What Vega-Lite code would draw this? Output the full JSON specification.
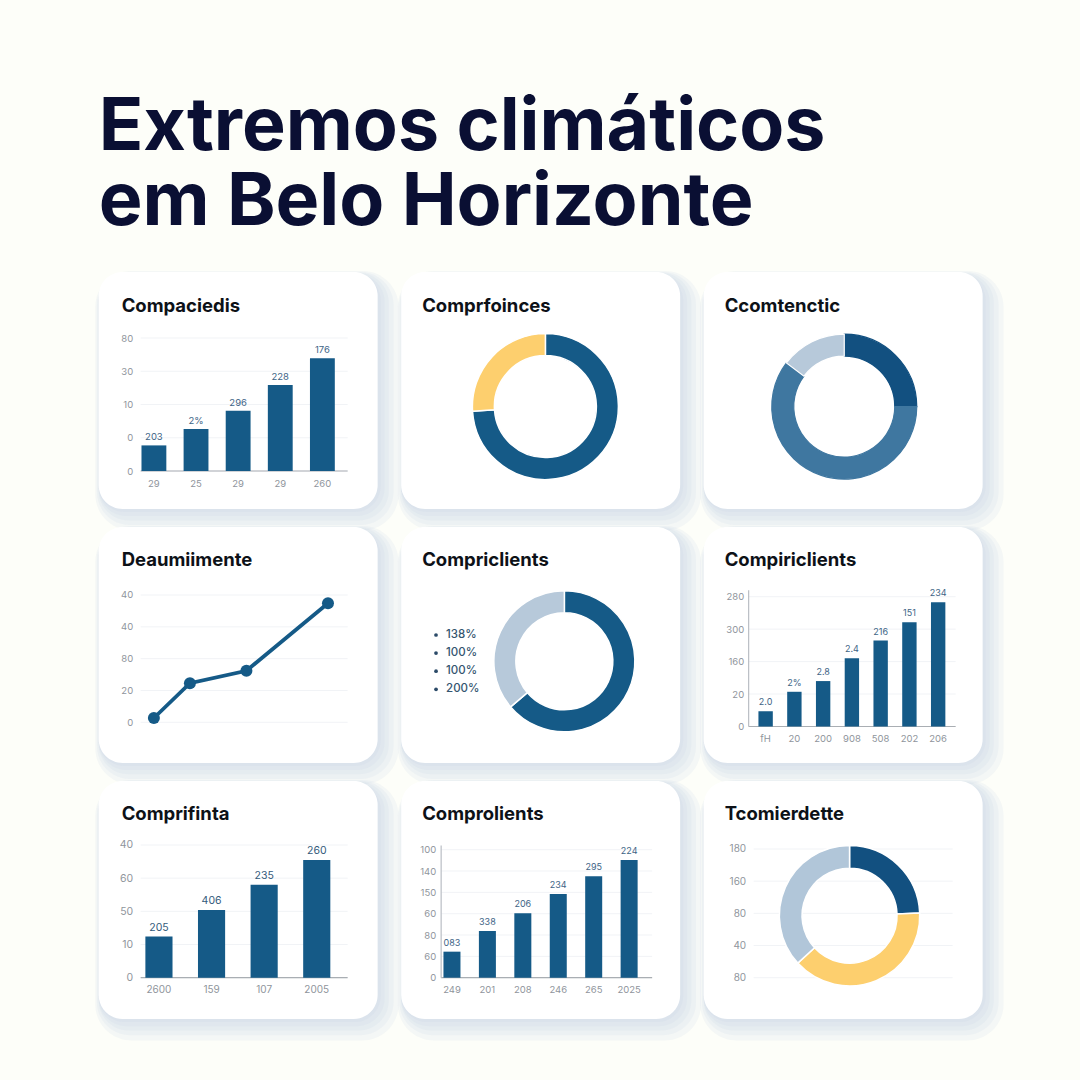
{
  "$schema": "https://vega.github.io/schema/vega-lite/v6.json",
  "background": "#fdfef9",
  "padding": {"left": 94.65, "top": 90, "right": 77, "bottom": 39},
  "title": {"text": ["Extremos climáticos", "em Belo Horizonte"], "fontSize": 73.5, "fontWeight": 700, "color": "#0a0f33", "lineHeight": 75, "anchor": "start", "frame": "group", "offset": 31, "dx": 0},
  "resolve": {"scale": {"color": "independent", "stroke": "independent"}},
  "config": {
    "font": "Inter",
    "view": {"stroke": null},
    "title": {"fontSize": 18.5, "fontWeight": 700, "color": "#0d1117", "anchor": "start", "frame": "group", "dx": 21, "offset": -43},
    "axis": {"domain": false, "ticks": false, "grid": false, "labelColor": "#8f959c", "labelFontSize": 9.5, "labelOverlap": false, "labelAngle": 0, "title": null}
  },
  "columns": 3,
  "bounds": "flush",
  "spacing": {"row": 18, "column": 23.5},
  "concat": [
    {
      "title": {"text": "Compaciedis", "dx": 23, "offset": -44},
      "width": 279,
      "height": 237,
      "resolve": {"scale": {"x": "independent", "y": "independent"}},
      "layer": [
        {"data": {"values": [{"card": 1}]}, "layer": [
          {"mark": {"type": "rect", "color": "#c5d3e1", "opacity": 0.15, "cornerRadius": 36}, "encoding": {"x": {"datum": -0.012, "type": "quantitative", "scale": {"domain": [0, 1], "range": [0, 279]}, "axis": null}, "x2": {"datum": 1.075}, "y": {"datum": -0.004, "type": "quantitative", "scale": {"domain": [0, 1], "range": [0, 237]}, "axis": null}, "y2": {"datum": 1.09}}},
          {"mark": {"type": "rect", "color": "#c5d3e1", "opacity": 0.15, "cornerRadius": 33}, "encoding": {"x": {"datum": -0.006}, "x2": {"datum": 1.057}, "y": {"datum": 0}, "y2": {"datum": 1.068}}},
          {"mark": {"type": "rect", "color": "#c5d3e1", "opacity": 0.15, "cornerRadius": 30}, "encoding": {"x": {"datum": 0}, "x2": {"datum": 1.04}, "y": {"datum": 0.004}, "y2": {"datum": 1.048}}},
          {"mark": {"type": "rect", "color": "#c5d3e1", "opacity": 0.15, "cornerRadius": 28}, "encoding": {"x": {"datum": 0}, "x2": {"datum": 1.025}, "y": {"datum": 0.008}, "y2": {"datum": 1.03}}},
          {"mark": {"type": "rect", "color": "#c5d3e1", "opacity": 0.15, "cornerRadius": 26}, "encoding": {"x": {"datum": 0}, "x2": {"datum": 1.011}, "y": {"datum": 0.012}, "y2": {"datum": 1.013}}},
          {"mark": {"type": "rect", "color": "#ffffff", "cornerRadius": 24}, "encoding": {"x": {"datum": 0}, "x2": {"datum": 1}, "y": {"datum": 0}, "y2": {"datum": 1}}}
        ]},
        {"data": {"values": [{"tick": 0}, {"tick": 10}, {"tick": 20}, {"tick": 30}, {"tick": 40}]}, "mark": {"type": "rule", "color": "#f1f3f6"}, "encoding": {"x": {"datum": 0, "type": "quantitative", "scale": {"domain": [0, 1], "range": [42, 249]}, "axis": null}, "x2": {"datum": 1}, "y": {"field": "tick", "type": "quantitative", "scale": {"domain": [0, 40], "range": [199, 66]}, "axis": {"zindex": 1, "orient": "left", "values": [0, 10, 20, 30, 40], "offset": -38, "labelPadding": 4, "labelExpr": "['0','0','10','30','80'][datum.value/10]"}}}},
        {"data": {"values": [{"tick": 0}]}, "mark": {"type": "rule", "color": "#a9aeb3", "strokeWidth": 1.2}, "encoding": {"x": {"datum": 0, "type": "quantitative", "scale": {"domain": [0, 1], "range": [42, 249]}, "axis": null}, "x2": {"datum": 1}, "y": {"field": "tick", "type": "quantitative", "scale": {"domain": [0, 40], "range": [199, 66]}, "axis": null}}},
        {
          "data": {"values": [
            {"period": "29|1", "value": 7.7, "label": "203"},
            {"period": "25|2", "value": 12.6, "label": "2%"},
            {"period": "29|3", "value": 18.1, "label": "296"},
            {"period": "29|4", "value": 25.9, "label": "228"},
            {"period": "260|5", "value": 33.9, "label": "176"}
          ]},
          "encoding": {
            "x": {"field": "period", "type": "nominal", "sort": null, "scale": {"range": [34.2, 244.8], "paddingInner": 0.41, "paddingOuter": 0.205}, "axis": {"zindex": 1, "orient": "bottom", "offset": -38, "labelPadding": 7, "labelExpr": "split(datum.label,'|')[0]"}},
            "y": {"field": "value", "type": "quantitative", "scale": {"domain": [0, 40], "range": [199, 66]}, "axis": null}
          },
          "layer": [
            {"mark": {"type": "bar", "color": "#155a87"}},
            {"mark": {"type": "text", "dy": -8, "fontSize": 9.5, "color": "#3e6486"}, "encoding": {"text": {"field": "label"}}}
          ]
        }
      ]
    },
    {
      "title": {"text": "Comprfoinces", "offset": -44},
      "width": 279,
      "height": 237,
      "data": {"values": [{"card": 2}]},
      "layer": [
        {"mark": {"type": "rect", "color": "#c5d3e1", "opacity": 0.15, "cornerRadius": 36}, "encoding": {"x": {"datum": -0.012, "type": "quantitative", "scale": {"domain": [0, 1], "range": [0, 279]}, "axis": null}, "x2": {"datum": 1.075}, "y": {"datum": -0.004, "type": "quantitative", "scale": {"domain": [0, 1], "range": [0, 237]}, "axis": null}, "y2": {"datum": 1.09}}},
        {"mark": {"type": "rect", "color": "#c5d3e1", "opacity": 0.15, "cornerRadius": 33}, "encoding": {"x": {"datum": -0.006}, "x2": {"datum": 1.057}, "y": {"datum": 0}, "y2": {"datum": 1.068}}},
        {"mark": {"type": "rect", "color": "#c5d3e1", "opacity": 0.15, "cornerRadius": 30}, "encoding": {"x": {"datum": 0}, "x2": {"datum": 1.04}, "y": {"datum": 0.004}, "y2": {"datum": 1.048}}},
        {"mark": {"type": "rect", "color": "#c5d3e1", "opacity": 0.15, "cornerRadius": 28}, "encoding": {"x": {"datum": 0}, "x2": {"datum": 1.025}, "y": {"datum": 0.008}, "y2": {"datum": 1.03}}},
        {"mark": {"type": "rect", "color": "#c5d3e1", "opacity": 0.15, "cornerRadius": 26}, "encoding": {"x": {"datum": 0}, "x2": {"datum": 1.011}, "y": {"datum": 0.012}, "y2": {"datum": 1.013}}},
        {"mark": {"type": "rect", "color": "#ffffff", "cornerRadius": 24}, "encoding": {"x": {"datum": 0}, "x2": {"datum": 1}, "y": {"datum": 0}, "y2": {"datum": 1}}},
        {
          "data": {"values": [{"segment": "A", "share": 74, "order": 1}, {"segment": "B", "share": 26, "order": 2}]},
          "mark": {"type": "arc", "outerRadius": 73, "innerRadius": 51, "stroke": "#ffffff", "strokeWidth": 1.5},
          "encoding": {
            "x": {"datum": 0.517},
            "y": {"datum": 0.568},
            "theta": {"field": "share", "type": "quantitative", "stack": true},
            "order": {"field": "order"},
            "color": {"field": "segment", "type": "nominal", "legend": null, "scale": {"domain": ["A", "B"], "range": ["#155a87", "#fdcf6e"]}}
          }
        }
      ]
    },
    {
      "title": {"text": "Ccomtenctic", "offset": -44},
      "width": 279,
      "height": 237,
      "data": {"values": [{"card": 3}]},
      "layer": [
        {"mark": {"type": "rect", "color": "#c5d3e1", "opacity": 0.15, "cornerRadius": 36}, "encoding": {"x": {"datum": -0.012, "type": "quantitative", "scale": {"domain": [0, 1], "range": [0, 279]}, "axis": null}, "x2": {"datum": 1.075}, "y": {"datum": -0.004, "type": "quantitative", "scale": {"domain": [0, 1], "range": [0, 237]}, "axis": null}, "y2": {"datum": 1.09}}},
        {"mark": {"type": "rect", "color": "#c5d3e1", "opacity": 0.15, "cornerRadius": 33}, "encoding": {"x": {"datum": -0.006}, "x2": {"datum": 1.057}, "y": {"datum": 0}, "y2": {"datum": 1.068}}},
        {"mark": {"type": "rect", "color": "#c5d3e1", "opacity": 0.15, "cornerRadius": 30}, "encoding": {"x": {"datum": 0}, "x2": {"datum": 1.04}, "y": {"datum": 0.004}, "y2": {"datum": 1.048}}},
        {"mark": {"type": "rect", "color": "#c5d3e1", "opacity": 0.15, "cornerRadius": 28}, "encoding": {"x": {"datum": 0}, "x2": {"datum": 1.025}, "y": {"datum": 0.008}, "y2": {"datum": 1.03}}},
        {"mark": {"type": "rect", "color": "#c5d3e1", "opacity": 0.15, "cornerRadius": 26}, "encoding": {"x": {"datum": 0}, "x2": {"datum": 1.011}, "y": {"datum": 0.012}, "y2": {"datum": 1.013}}},
        {"mark": {"type": "rect", "color": "#ffffff", "cornerRadius": 24}, "encoding": {"x": {"datum": 0}, "x2": {"datum": 1}, "y": {"datum": 0}, "y2": {"datum": 1}}},
        {
          "data": {"values": [{"segment": "A", "share": 25, "order": 1}, {"segment": "B", "share": 60.3, "order": 2}, {"segment": "C", "share": 14.7, "order": 3}]},
          "mark": {"type": "arc", "outerRadius": 72.5, "innerRadius": 50.5, "strokeWidth": 1.2},
          "encoding": {
            "x": {"datum": 0.504},
            "y": {"datum": 0.568},
            "theta": {"field": "share", "type": "quantitative", "stack": true},
            "order": {"field": "order"},
            "color": {"field": "segment", "type": "nominal", "legend": null, "scale": {"domain": ["A", "B", "C"], "range": ["#125080", "#3f77a0", "#b7c9da"]}},
            "stroke": {"field": "segment", "type": "nominal", "legend": null, "scale": {"domain": ["A", "B", "C"], "range": ["#125080", "#3f77a0", "#ffffff"]}}
          }
        }
      ]
    },
    {
      "title": {"text": "Deaumiimente", "dx": 23},
      "width": 279,
      "height": 236,
      "resolve": {"scale": {"x": "independent", "y": "independent"}},
      "layer": [
        {"data": {"values": [{"card": 4}]}, "layer": [
          {"mark": {"type": "rect", "color": "#c5d3e1", "opacity": 0.15, "cornerRadius": 36}, "encoding": {"x": {"datum": -0.012, "type": "quantitative", "scale": {"domain": [0, 1], "range": [0, 279]}, "axis": null}, "x2": {"datum": 1.075}, "y": {"datum": -0.004, "type": "quantitative", "scale": {"domain": [0, 1], "range": [0, 236]}, "axis": null}, "y2": {"datum": 1.09}}},
          {"mark": {"type": "rect", "color": "#c5d3e1", "opacity": 0.15, "cornerRadius": 33}, "encoding": {"x": {"datum": -0.006}, "x2": {"datum": 1.057}, "y": {"datum": 0}, "y2": {"datum": 1.068}}},
          {"mark": {"type": "rect", "color": "#c5d3e1", "opacity": 0.15, "cornerRadius": 30}, "encoding": {"x": {"datum": 0}, "x2": {"datum": 1.04}, "y": {"datum": 0.004}, "y2": {"datum": 1.048}}},
          {"mark": {"type": "rect", "color": "#c5d3e1", "opacity": 0.15, "cornerRadius": 28}, "encoding": {"x": {"datum": 0}, "x2": {"datum": 1.025}, "y": {"datum": 0.008}, "y2": {"datum": 1.03}}},
          {"mark": {"type": "rect", "color": "#c5d3e1", "opacity": 0.15, "cornerRadius": 26}, "encoding": {"x": {"datum": 0}, "x2": {"datum": 1.011}, "y": {"datum": 0.012}, "y2": {"datum": 1.013}}},
          {"mark": {"type": "rect", "color": "#ffffff", "cornerRadius": 24}, "encoding": {"x": {"datum": 0}, "x2": {"datum": 1}, "y": {"datum": 0}, "y2": {"datum": 1}}}
        ]},
        {"data": {"values": [{"tick": 0}, {"tick": 10}, {"tick": 20}, {"tick": 30}, {"tick": 40}]}, "mark": {"type": "rule", "color": "#f1f3f6"}, "encoding": {"x": {"datum": 0, "type": "quantitative", "scale": {"domain": [0, 100], "range": [42, 249]}, "axis": null}, "x2": {"datum": 100}, "y": {"field": "tick", "type": "quantitative", "scale": {"domain": [0, 40], "range": [195.3, 68]}, "axis": {"zindex": 1, "orient": "left", "values": [0, 10, 20, 30, 40], "offset": -38, "labelPadding": 4, "labelExpr": "['0','20','80','40','40'][datum.value/10]"}}}},
        {
          "data": {"values": [{"t": 6.4, "value": 1.35}, {"t": 23.8, "value": 12.3}, {"t": 51.1, "value": 16.2}, {"t": 90.5, "value": 37.4}]},
          "encoding": {"x": {"field": "t", "type": "quantitative", "scale": {"domain": [0, 100], "range": [42, 249]}, "axis": null}, "y": {"field": "value", "type": "quantitative", "scale": {"domain": [0, 40], "range": [195.3, 68]}, "axis": null}},
          "layer": [
            {"mark": {"type": "line", "color": "#155a87", "strokeWidth": 3.8}},
            {"mark": {"type": "point", "filled": true, "color": "#155a87", "size": 144, "opacity": 1}}
          ]
        }
      ]
    },
    {
      "title": {"text": "Compriclients"},
      "width": 279,
      "height": 236,
      "resolve": {"scale": {"y": "independent"}},
      "layer": [
        {"data": {"values": [{"card": 5}]}, "layer": [
          {"mark": {"type": "rect", "color": "#c5d3e1", "opacity": 0.15, "cornerRadius": 36}, "encoding": {"x": {"datum": -0.012, "type": "quantitative", "scale": {"domain": [0, 1], "range": [0, 279]}, "axis": null}, "x2": {"datum": 1.075}, "y": {"datum": -0.004, "type": "quantitative", "scale": {"domain": [0, 1], "range": [0, 236]}, "axis": null}, "y2": {"datum": 1.09}}},
          {"mark": {"type": "rect", "color": "#c5d3e1", "opacity": 0.15, "cornerRadius": 33}, "encoding": {"x": {"datum": -0.006}, "x2": {"datum": 1.057}, "y": {"datum": 0}, "y2": {"datum": 1.068}}},
          {"mark": {"type": "rect", "color": "#c5d3e1", "opacity": 0.15, "cornerRadius": 30}, "encoding": {"x": {"datum": 0}, "x2": {"datum": 1.04}, "y": {"datum": 0.004}, "y2": {"datum": 1.048}}},
          {"mark": {"type": "rect", "color": "#c5d3e1", "opacity": 0.15, "cornerRadius": 28}, "encoding": {"x": {"datum": 0}, "x2": {"datum": 1.025}, "y": {"datum": 0.008}, "y2": {"datum": 1.03}}},
          {"mark": {"type": "rect", "color": "#c5d3e1", "opacity": 0.15, "cornerRadius": 26}, "encoding": {"x": {"datum": 0}, "x2": {"datum": 1.011}, "y": {"datum": 0.012}, "y2": {"datum": 1.013}}},
          {"mark": {"type": "rect", "color": "#ffffff", "cornerRadius": 24}, "encoding": {"x": {"datum": 0}, "x2": {"datum": 1}, "y": {"datum": 0}, "y2": {"datum": 1}}},
          {
            "data": {"values": [{"segment": "A", "share": 63.8, "order": 1}, {"segment": "B", "share": 36.2, "order": 2}]},
            "mark": {"type": "arc", "outerRadius": 70.5, "innerRadius": 48.5, "stroke": "#ffffff", "strokeWidth": 1.5},
            "encoding": {
              "x": {"datum": 0.585},
              "y": {"datum": 0.569},
              "theta": {"field": "share", "type": "quantitative", "stack": true},
              "order": {"field": "order"},
              "color": {"field": "segment", "type": "nominal", "legend": null, "scale": {"domain": ["A", "B"], "range": ["#155a87", "#b7c9da"]}}
            }
          }
        ]},
        {
          "data": {"values": [{"rank": 1, "label": "138%"}, {"rank": 2, "label": "100%"}, {"rank": 3, "label": "100%"}, {"rank": 4, "label": "200%"}]},
          "encoding": {"y": {"field": "rank", "type": "quantitative", "scale": {"domain": [1, 4], "range": [108, 162.3], "zero": false}, "axis": null}},
          "layer": [
            {"mark": {"type": "point", "filled": true, "color": "#2b4a68", "size": 14, "opacity": 1}, "encoding": {"x": {"datum": 0.125}}},
            {"mark": {"type": "text", "align": "left", "fontSize": 11.5, "fontWeight": 500, "color": "#34556f"}, "encoding": {"x": {"datum": 0.161}, "text": {"field": "label"}}}
          ]
        }
      ]
    },
    {
      "title": {"text": "Compiriclients"},
      "width": 279,
      "height": 236,
      "resolve": {"scale": {"x": "independent", "y": "independent"}},
      "layer": [
        {"data": {"values": [{"card": 6}]}, "layer": [
          {"mark": {"type": "rect", "color": "#c5d3e1", "opacity": 0.15, "cornerRadius": 36}, "encoding": {"x": {"datum": -0.012, "type": "quantitative", "scale": {"domain": [0, 1], "range": [0, 279]}, "axis": null}, "x2": {"datum": 1.075}, "y": {"datum": -0.004, "type": "quantitative", "scale": {"domain": [0, 1], "range": [0, 236]}, "axis": null}, "y2": {"datum": 1.09}}},
          {"mark": {"type": "rect", "color": "#c5d3e1", "opacity": 0.15, "cornerRadius": 33}, "encoding": {"x": {"datum": -0.006}, "x2": {"datum": 1.057}, "y": {"datum": 0}, "y2": {"datum": 1.068}}},
          {"mark": {"type": "rect", "color": "#c5d3e1", "opacity": 0.15, "cornerRadius": 30}, "encoding": {"x": {"datum": 0}, "x2": {"datum": 1.04}, "y": {"datum": 0.004}, "y2": {"datum": 1.048}}},
          {"mark": {"type": "rect", "color": "#c5d3e1", "opacity": 0.15, "cornerRadius": 28}, "encoding": {"x": {"datum": 0}, "x2": {"datum": 1.025}, "y": {"datum": 0.008}, "y2": {"datum": 1.03}}},
          {"mark": {"type": "rect", "color": "#c5d3e1", "opacity": 0.15, "cornerRadius": 26}, "encoding": {"x": {"datum": 0}, "x2": {"datum": 1.011}, "y": {"datum": 0.012}, "y2": {"datum": 1.013}}},
          {"mark": {"type": "rect", "color": "#ffffff", "cornerRadius": 24}, "encoding": {"x": {"datum": 0}, "x2": {"datum": 1}, "y": {"datum": 0}, "y2": {"datum": 1}}}
        ]},
        {"data": {"values": [{"tick": 0}, {"tick": 10}, {"tick": 20}, {"tick": 30}, {"tick": 40}]}, "mark": {"type": "rule", "color": "#f1f3f6"}, "encoding": {"x": {"datum": 0, "type": "quantitative", "scale": {"domain": [0, 1], "range": [45, 252]}, "axis": null}, "x2": {"datum": 1}, "y": {"field": "tick", "type": "quantitative", "scale": {"domain": [0, 40], "range": [199.5, 69.7]}, "axis": {"zindex": 1, "orient": "left", "values": [0, 10, 20, 30, 40], "offset": -45, "labelPadding": 5, "labelExpr": "['0','20','160','300','280'][datum.value/10]"}}}},
        {"data": {"values": [{"tick": 0}]}, "mark": {"type": "rule", "color": "#a9aeb3", "strokeWidth": 1.2}, "encoding": {"x": {"datum": 0, "type": "quantitative", "scale": {"domain": [0, 1], "range": [45, 252]}, "axis": null}, "x2": {"datum": 1}, "y": {"field": "tick", "type": "quantitative", "scale": {"domain": [0, 40], "range": [199.5, 69.7]}, "axis": null}}},
        {"data": {"values": [{"tick": 0, "top": 42}]}, "mark": {"type": "rule", "color": "#b9bec4", "strokeWidth": 1.2}, "encoding": {"x": {"datum": 0, "type": "quantitative", "scale": {"domain": [0, 1], "range": [45, 252]}, "axis": null}, "y": {"field": "tick", "type": "quantitative", "scale": {"domain": [0, 40], "range": [199.5, 69.7]}, "axis": null}, "y2": {"field": "top"}}},
        {
          "data": {"values": [
            {"period": "fH|1", "value": 4.7, "label": "2.0"},
            {"period": "20|2", "value": 10.7, "label": "2%"},
            {"period": "200|3", "value": 14, "label": "2.8"},
            {"period": "908|4", "value": 21, "label": "2.4"},
            {"period": "508|5", "value": 26.5, "label": "216"},
            {"period": "202|6", "value": 32.1, "label": "151"},
            {"period": "206|7", "value": 38.3, "label": "234"}
          ]},
          "encoding": {
            "x": {"field": "period", "type": "nominal", "sort": null, "scale": {"range": [47.6, 248.9], "paddingInner": 0.5, "paddingOuter": 0.25}, "axis": {"zindex": 1, "orient": "bottom", "offset": -36.5, "labelPadding": 7, "labelExpr": "split(datum.label,'|')[0]"}},
            "y": {"field": "value", "type": "quantitative", "scale": {"domain": [0, 40], "range": [199.5, 69.7]}, "axis": null}
          },
          "layer": [
            {"mark": {"type": "bar", "color": "#155a87"}},
            {"mark": {"type": "text", "dy": -9, "fontSize": 9, "color": "#3e6486"}, "encoding": {"text": {"field": "label"}}}
          ]
        }
      ]
    },
    {
      "title": {"text": "Comprifinta", "dx": 23},
      "width": 279,
      "height": 238,
      "resolve": {"scale": {"x": "independent", "y": "independent"}},
      "layer": [
        {"data": {"values": [{"card": 7}]}, "layer": [
          {"mark": {"type": "rect", "color": "#c5d3e1", "opacity": 0.15, "cornerRadius": 36}, "encoding": {"x": {"datum": -0.012, "type": "quantitative", "scale": {"domain": [0, 1], "range": [0, 279]}, "axis": null}, "x2": {"datum": 1.075}, "y": {"datum": -0.004, "type": "quantitative", "scale": {"domain": [0, 1], "range": [0, 238]}, "axis": null}, "y2": {"datum": 1.09}}},
          {"mark": {"type": "rect", "color": "#c5d3e1", "opacity": 0.15, "cornerRadius": 33}, "encoding": {"x": {"datum": -0.006}, "x2": {"datum": 1.057}, "y": {"datum": 0}, "y2": {"datum": 1.068}}},
          {"mark": {"type": "rect", "color": "#c5d3e1", "opacity": 0.15, "cornerRadius": 30}, "encoding": {"x": {"datum": 0}, "x2": {"datum": 1.04}, "y": {"datum": 0.004}, "y2": {"datum": 1.048}}},
          {"mark": {"type": "rect", "color": "#c5d3e1", "opacity": 0.15, "cornerRadius": 28}, "encoding": {"x": {"datum": 0}, "x2": {"datum": 1.025}, "y": {"datum": 0.008}, "y2": {"datum": 1.03}}},
          {"mark": {"type": "rect", "color": "#c5d3e1", "opacity": 0.15, "cornerRadius": 26}, "encoding": {"x": {"datum": 0}, "x2": {"datum": 1.011}, "y": {"datum": 0.012}, "y2": {"datum": 1.013}}},
          {"mark": {"type": "rect", "color": "#ffffff", "cornerRadius": 24}, "encoding": {"x": {"datum": 0}, "x2": {"datum": 1}, "y": {"datum": 0}, "y2": {"datum": 1}}}
        ]},
        {"data": {"values": [{"tick": 0}, {"tick": 10}, {"tick": 20}, {"tick": 30}, {"tick": 40}]}, "mark": {"type": "rule", "color": "#f1f3f6"}, "encoding": {"x": {"datum": 0, "type": "quantitative", "scale": {"domain": [0, 1], "range": [42, 249]}, "axis": null}, "x2": {"datum": 1}, "y": {"field": "tick", "type": "quantitative", "scale": {"domain": [0, 40], "range": [196.7, 64]}, "axis": {"zindex": 1, "orient": "left", "values": [0, 10, 20, 30, 40], "offset": -38, "labelPadding": 4, "labelFontSize": 10.5, "labelExpr": "['0','10','50','60','40'][datum.value/10]"}}}},
        {"data": {"values": [{"tick": 0}]}, "mark": {"type": "rule", "color": "#a9aeb3", "strokeWidth": 1.2}, "encoding": {"x": {"datum": 0, "type": "quantitative", "scale": {"domain": [0, 1], "range": [42, 249]}, "axis": null}, "x2": {"datum": 1}, "y": {"field": "tick", "type": "quantitative", "scale": {"domain": [0, 40], "range": [196.7, 64]}, "axis": null}}},
        {
          "data": {"values": [
            {"period": "2600|1", "value": 12.4, "label": "205"},
            {"period": "159|2", "value": 20.4, "label": "406"},
            {"period": "107|3", "value": 28, "label": "235"},
            {"period": "2005|4", "value": 35.5, "label": "260"}
          ]},
          "encoding": {
            "x": {"field": "period", "type": "nominal", "sort": null, "scale": {"range": [34, 244.4], "paddingInner": 0.484, "paddingOuter": 0.242}, "axis": {"zindex": 1, "orient": "bottom", "offset": -41.3, "labelPadding": 7, "labelFontSize": 10, "labelExpr": "split(datum.label,'|')[0]"}},
            "y": {"field": "value", "type": "quantitative", "scale": {"domain": [0, 40], "range": [196.7, 64]}, "axis": null}
          },
          "layer": [
            {"mark": {"type": "bar", "color": "#155a87"}},
            {"mark": {"type": "text", "dy": -9, "fontSize": 10.5, "color": "#335a7b"}, "encoding": {"text": {"field": "label"}}}
          ]
        }
      ]
    },
    {
      "title": {"text": "Comprolients"},
      "width": 279,
      "height": 238,
      "resolve": {"scale": {"x": "independent", "y": "independent"}},
      "layer": [
        {"data": {"values": [{"card": 8}]}, "layer": [
          {"mark": {"type": "rect", "color": "#c5d3e1", "opacity": 0.15, "cornerRadius": 36}, "encoding": {"x": {"datum": -0.012, "type": "quantitative", "scale": {"domain": [0, 1], "range": [0, 279]}, "axis": null}, "x2": {"datum": 1.075}, "y": {"datum": -0.004, "type": "quantitative", "scale": {"domain": [0, 1], "range": [0, 238]}, "axis": null}, "y2": {"datum": 1.09}}},
          {"mark": {"type": "rect", "color": "#c5d3e1", "opacity": 0.15, "cornerRadius": 33}, "encoding": {"x": {"datum": -0.006}, "x2": {"datum": 1.057}, "y": {"datum": 0}, "y2": {"datum": 1.068}}},
          {"mark": {"type": "rect", "color": "#c5d3e1", "opacity": 0.15, "cornerRadius": 30}, "encoding": {"x": {"datum": 0}, "x2": {"datum": 1.04}, "y": {"datum": 0.004}, "y2": {"datum": 1.048}}},
          {"mark": {"type": "rect", "color": "#c5d3e1", "opacity": 0.15, "cornerRadius": 28}, "encoding": {"x": {"datum": 0}, "x2": {"datum": 1.025}, "y": {"datum": 0.008}, "y2": {"datum": 1.03}}},
          {"mark": {"type": "rect", "color": "#c5d3e1", "opacity": 0.15, "cornerRadius": 26}, "encoding": {"x": {"datum": 0}, "x2": {"datum": 1.011}, "y": {"datum": 0.012}, "y2": {"datum": 1.013}}},
          {"mark": {"type": "rect", "color": "#ffffff", "cornerRadius": 24}, "encoding": {"x": {"datum": 0}, "x2": {"datum": 1}, "y": {"datum": 0}, "y2": {"datum": 1}}}
        ]},
        {"data": {"values": [{"tick": 0}, {"tick": 10}, {"tick": 20}, {"tick": 30}, {"tick": 40}, {"tick": 50}, {"tick": 60}]}, "mark": {"type": "rule", "color": "#f1f3f6"}, "encoding": {"x": {"datum": 0, "type": "quantitative", "scale": {"domain": [0, 1], "range": [40, 251]}, "axis": null}, "x2": {"datum": 1}, "y": {"field": "tick", "type": "quantitative", "scale": {"domain": [0, 60], "range": [196.7, 68.7]}, "axis": {"zindex": 1, "orient": "left", "values": [0, 10, 20, 30, 40, 50, 60], "offset": -40, "labelPadding": 5.5, "labelExpr": "['0','60','80','60','150','140','100'][datum.value/10]"}}}},
        {"data": {"values": [{"tick": 0}]}, "mark": {"type": "rule", "color": "#a9aeb3", "strokeWidth": 1.2}, "encoding": {"x": {"datum": 0, "type": "quantitative", "scale": {"domain": [0, 1], "range": [40, 251]}, "axis": null}, "x2": {"datum": 1}, "y": {"field": "tick", "type": "quantitative", "scale": {"domain": [0, 60], "range": [196.7, 68.7]}, "axis": null}}},
        {"data": {"values": [{"tick": 0, "top": 62}]}, "mark": {"type": "rule", "color": "#b9bec4", "strokeWidth": 1.2}, "encoding": {"x": {"datum": 0, "type": "quantitative", "scale": {"domain": [0, 1], "range": [40, 251]}, "axis": null}, "y": {"field": "tick", "type": "quantitative", "scale": {"domain": [0, 60], "range": [196.7, 68.7]}, "axis": null}, "y2": {"field": "top"}}},
        {
          "data": {"values": [
            {"period": "249|1", "value": 12.2, "label": "083"},
            {"period": "201|2", "value": 21.9, "label": "338"},
            {"period": "208|3", "value": 30.2, "label": "206"},
            {"period": "246|4", "value": 39.2, "label": "234"},
            {"period": "265|5", "value": 47.5, "label": "295"},
            {"period": "2025|6", "value": 55.2, "label": "224"}
          ]},
          "encoding": {
            "x": {"field": "period", "type": "nominal", "sort": null, "scale": {"range": [33.1, 245.7], "paddingInner": 0.52, "paddingOuter": 0.26}, "axis": {"zindex": 1, "orient": "bottom", "offset": -41.3, "labelPadding": 7, "labelExpr": "split(datum.label,'|')[0]"}},
            "y": {"field": "value", "type": "quantitative", "scale": {"domain": [0, 60], "range": [196.7, 68.7]}, "axis": null}
          },
          "layer": [
            {"mark": {"type": "bar", "color": "#155a87"}},
            {"mark": {"type": "text", "dy": -9, "fontSize": 9, "color": "#3e6486"}, "encoding": {"text": {"field": "label"}}}
          ]
        }
      ]
    },
    {
      "title": {"text": "Tcomierdette"},
      "width": 279,
      "height": 238,
      "resolve": {"scale": {"y": "independent", "x": "independent"}},
      "layer": [
        {"data": {"values": [{"card": 9}]}, "layer": [
          {"mark": {"type": "rect", "color": "#c5d3e1", "opacity": 0.15, "cornerRadius": 36}, "encoding": {"x": {"datum": -0.012, "type": "quantitative", "scale": {"domain": [0, 1], "range": [0, 279]}, "axis": null}, "x2": {"datum": 1.075}, "y": {"datum": -0.004, "type": "quantitative", "scale": {"domain": [0, 1], "range": [0, 238]}, "axis": null}, "y2": {"datum": 1.09}}},
          {"mark": {"type": "rect", "color": "#c5d3e1", "opacity": 0.15, "cornerRadius": 33}, "encoding": {"x": {"datum": -0.006}, "x2": {"datum": 1.057}, "y": {"datum": 0}, "y2": {"datum": 1.068}}},
          {"mark": {"type": "rect", "color": "#c5d3e1", "opacity": 0.15, "cornerRadius": 30}, "encoding": {"x": {"datum": 0}, "x2": {"datum": 1.04}, "y": {"datum": 0.004}, "y2": {"datum": 1.048}}},
          {"mark": {"type": "rect", "color": "#c5d3e1", "opacity": 0.15, "cornerRadius": 28}, "encoding": {"x": {"datum": 0}, "x2": {"datum": 1.025}, "y": {"datum": 0.008}, "y2": {"datum": 1.03}}},
          {"mark": {"type": "rect", "color": "#c5d3e1", "opacity": 0.15, "cornerRadius": 26}, "encoding": {"x": {"datum": 0}, "x2": {"datum": 1.011}, "y": {"datum": 0.012}, "y2": {"datum": 1.013}}},
          {"mark": {"type": "rect", "color": "#ffffff", "cornerRadius": 24}, "encoding": {"x": {"datum": 0}, "x2": {"datum": 1}, "y": {"datum": 0}, "y2": {"datum": 1}}}
        ]},
        {"data": {"values": [{"tick": 0}, {"tick": 10}, {"tick": 20}, {"tick": 30}, {"tick": 40}]}, "mark": {"type": "rule", "color": "#f1f3f6"}, "encoding": {"x": {"datum": 0, "type": "quantitative", "scale": {"domain": [0, 1], "range": [50, 249]}, "axis": null}, "x2": {"datum": 1}, "y": {"field": "tick", "type": "quantitative", "scale": {"domain": [0, 40], "range": [196.7, 68]}, "axis": {"zindex": 1, "orient": "left", "values": [0, 10, 20, 30, 40], "offset": -47, "labelPadding": 5, "labelFontSize": 10, "labelExpr": "['80','40','80','160','180'][datum.value/10]"}}}},
        {
          "data": {"values": [{"segment": "A", "share": 24.4, "order": 1}, {"segment": "B", "share": 38.8, "order": 2}, {"segment": "C", "share": 36.8, "order": 3}]},
          "mark": {"type": "arc", "outerRadius": 70.2, "innerRadius": 47.5, "stroke": "#ffffff", "strokeWidth": 1.5},
          "encoding": {
            "x": {"datum": 0.523, "type": "quantitative", "scale": {"domain": [0, 1], "range": [0, 279]}, "axis": null},
            "y": {"datum": 0.566, "type": "quantitative", "scale": {"domain": [0, 1], "range": [0, 238]}, "axis": null},
            "theta": {"field": "share", "type": "quantitative", "stack": true},
            "order": {"field": "order"},
            "color": {"field": "segment", "type": "nominal", "legend": null, "scale": {"domain": ["A", "B", "C"], "range": ["#125080", "#fdcf6e", "#b1c6d9"]}}
          }
        }
      ]
    }
  ]
}
